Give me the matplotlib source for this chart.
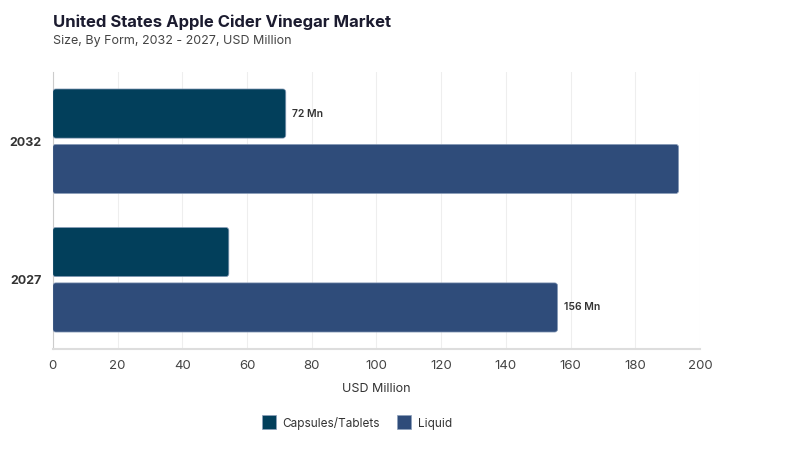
import matplotlib
matplotlib.use('Agg')
import matplotlib.pyplot as plt
from matplotlib.patches import FancyBboxPatch
from matplotlib.lines import Line2D

plt.rcParams['font.family'] = ['Inter', 'DejaVu Sans']

years = ['2027', '2032']
capsules = [54.4, 72]
liquid = [156, 193.4]
series_names = ['Capsules/Tablets', 'Liquid']
colors = ['#023f5b', '#2f4c7a']
# labels shown on the chart: (series index, year index, text)
bar_labels = [(0, 1, '72 Mn'), (1, 0, '156 Mn')]

fig = plt.figure(figsize=(8, 4.5), dpi=100)
ax = fig.add_axes([0.066, 0.2244, 0.809, 0.6156])

h = 0.355
off = 0.2
ypos = list(range(len(years)))
bars_c = ax.barh([y + off for y in ypos], capsules, height=h, color=colors[0])
bars_l = ax.barh([y - off for y in ypos], liquid, height=h, color=colors[1])

# swap the plain rectangles for rounded ones
for bars, col in [(bars_c, colors[0]), (bars_l, colors[1])]:
    for r in bars:
        x0, y0 = r.get_x(), r.get_y()
        w, hh = r.get_width(), r.get_height()
        r.set_visible(False)
        p = FancyBboxPatch((x0, y0), w, hh, boxstyle='round,pad=0,rounding_size=0.9',
                           mutation_aspect=0.0234, facecolor=col,
                           edgecolor='#8da0bb', linewidth=0.5, zorder=3)
        ax.add_patch(p)

vals = [capsules, liquid]
for si, yi, txt in bar_labels:
    yy = ypos[yi] + (off if si == 0 else -off)
    ax.text(vals[si][yi] + 2, yy, txt, va='center', ha='left', fontsize=7.5,
            color='#333333', fontweight='semibold')

ax.set_xlim(0, 200)
ax.set_ylim(-0.5, 1.5)
ax.set_xticks(range(0, 201, 20))
ax.set_yticks(ypos)
ax.set_yticklabels(years, fontsize=9, fontweight='bold', color='#333333')
ax.tick_params(axis='x', labelsize=9.5, colors='#444444', length=0, pad=8)
ax.tick_params(axis='y', length=0, pad=8)
ax.grid(axis='x', color='#eeeeee', linewidth=0.8, zorder=0)
ax.set_axisbelow(True)
for s in ['top', 'right']:
    ax.spines[s].set_visible(False)
ax.spines['left'].set_color('#cccccc')
ax.spines['bottom'].set_color('#dddddd')
ax.spines['bottom'].set_linewidth(1.5)
ax.set_xlabel('USD Million', fontsize=9, color='#333333', labelpad=8)

fig.text(0.066, 0.951, 'United States Apple Cider Vinegar Market', fontsize=12,
         fontweight='bold', color='#1b1b2f', va='center')
fig.text(0.066, 0.909, 'Size, By Form, 2032 - 2027, USD Million', fontsize=9,
         color='#444444', va='center')

handles = [Line2D([], [], marker='s', linestyle='', markersize=10, color=c,
                  markeredgecolor='#8da0bb', markeredgewidth=0.5) for c in colors]
fig.legend(handles, series_names, loc='center', bbox_to_anchor=(0.443, 0.06), ncol=2,
           frameon=False, fontsize=8.5, handletextpad=0.2, columnspacing=1.0,
           labelcolor='#333333')

fig.savefig('out.png', dpi=100)
